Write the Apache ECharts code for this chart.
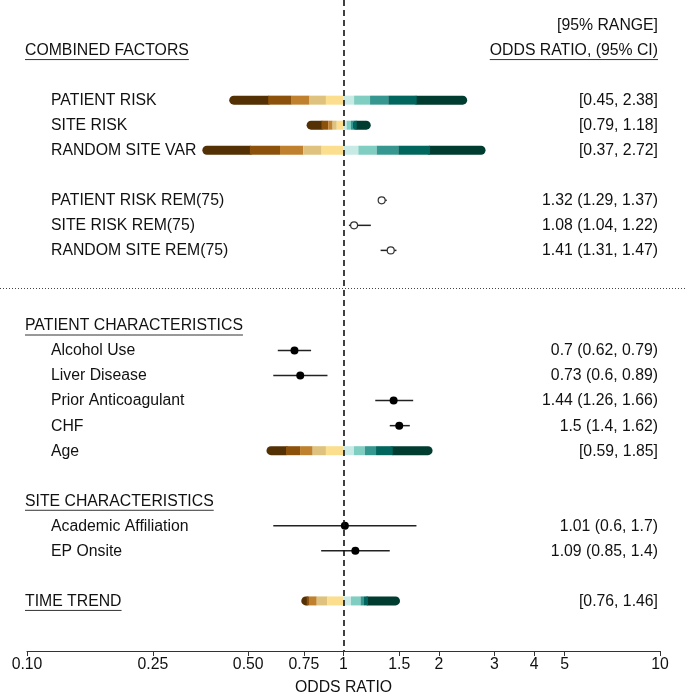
<!DOCTYPE html>
<html><head><meta charset="utf-8">
<script src="https://cdn.jsdelivr.net/npm/echarts@6/dist/echarts.min.js"></script>
<style>html,body{margin:0;padding:0;background:#fff}#c{width:685px;height:694px}</style>
</head><body><div id="c"></div>
<script>
// ---- axis ticks ----
const tickValues = [0.1, 0.25, 0.5, 0.75, 1, 1.5, 2, 3, 4, 5, 10];
const tickLabels = ['0.10', '0.25', '0.50', '0.75', '1', '1.5', '2', '3', '4', '5', '10'];

// ---- section headers (row index, text) ----
const headerNames = ['COMBINED FACTORS', 'PATIENT CHARACTERISTICS', 'SITE CHARACTERISTICS', 'TIME TREND'];
const headerRows = [0, 11, 18, 22];

// ---- 95% range rows (colour-banded bars) ----
const rangeNames = ['PATIENT RISK', 'SITE RISK', 'RANDOM SITE VAR', 'Age', 'TIME TREND'];
const rangeRows = [2, 3, 4, 16, 22];
const rangeShowName = [true, true, true, true, false];
const rangeLow = [0.45, 0.79, 0.37, 0.59, 0.76];
const rangeHigh = [2.38, 1.18, 2.72, 1.85, 1.46];
// inner band boundaries (9 per bar)
const breaksPatientRisk = [0.578, 0.686, 0.781, 0.88, 1, 1.08, 1.213, 1.385, 1.703];
const breaksSiteRisk = [0.852, 0.895, 0.924, 0.952, 1, 1.023, 1.056, 1.074, 1.101];
const breaksRandomSite = [0.506, 0.63, 0.746, 0.853, 1, 1.114, 1.273, 1.49, 1.876];
const breaksAge = [0.658, 0.729, 0.799, 0.88, 1, 1.079, 1.169, 1.267, 1.431];
const breaksTimeTrend = [0.765, 0.777, 0.823, 0.89, 1, 1.056, 1.132, 1.161, 1.195];
const rangeBreaks = [breaksPatientRisk, breaksSiteRisk, breaksRandomSite, breaksAge, breaksTimeTrend];
const bandColors = ['#543005', '#8c510a', '#bf812d', '#dfc27d', '#fbdf8e',
                    '#c7eae5', '#80cdc1', '#35978f', '#01665e', '#003c30'];

// ---- odds ratio rows ----
const pointNames = ['PATIENT RISK REM(75)', 'SITE RISK REM(75)', 'RANDOM SITE REM(75)',
  'Alcohol Use', 'Liver Disease', 'Prior Anticoagulant', 'CHF', 'Academic Affiliation', 'EP Onsite'];
const pointRows = [6, 7, 8, 12, 13, 14, 15, 19, 20];
const pointEst = [1.32, 1.08, 1.41, 0.7, 0.73, 1.44, 1.5, 1.01, 1.09];
const pointLow = [1.29, 1.04, 1.31, 0.62, 0.6, 1.26, 1.4, 0.6, 0.85];
const pointHigh = [1.37, 1.22, 1.47, 0.79, 0.89, 1.66, 1.62, 1.7, 1.4];
const pointOpen = [true, true, true, false, false, false, false, false, false];

// ---- right column header ----
const rightHeaders = ['[95% RANGE]', 'ODDS RATIO, (95% CI)'];
const rightHeaderRows = [-1, 0];
const dividerRow = 9.5;

const FONT = '"Liberation Sans", Arial, sans-serif';
const FS = 15.8;
const TXT = '#111';

// build band segments: round-capped ends first, butt interior on top
const bandData = [];
rangeRows.forEach((r, i) => {
  const pts = [rangeLow[i]].concat(rangeBreaks[i], [rangeHigh[i]]);
  [0, 9].forEach(s => bandData.push([pts[s], pts[s + 1], r, s]));
});
rangeRows.forEach((r, i) => {
  const pts = [rangeLow[i]].concat(rangeBreaks[i], [rangeHigh[i]]);
  for (let s = 1; s < 9; s++) bandData.push([pts[s], pts[s + 1], r, s]);
});
const ciData = pointRows.map((r, i) => [pointLow[i], pointHigh[i], r]);
const openPts = [], fillPts = [];
pointRows.forEach((r, i) => (pointOpen[i] ? openPts : fillPts).push([pointEst[i], r]));

const chart = echarts.init(document.getElementById('c'), null, {renderer: 'canvas'});
const option = {
  animation: false,
  backgroundColor: '#fff',
  grid: {left: 27, right: 25, top: 0, bottom: 43, containLabel: false, outerBoundsMode: 'none'},
  xAxis: {
    type: 'log', logBase: 10, min: 0.1, max: 10,
    name: 'ODDS RATIO', nameLocation: 'middle', nameGap: 29,
    nameTextStyle: {fontFamily: FONT, fontSize: FS, color: TXT},
    axisLine: {show: true, onZero: false, lineStyle: {color: '#333', width: 1}},
    axisTick: {show: true, length: 5, customValues: tickValues, lineStyle: {color: '#333'}},
    axisLabel: {
      show: true, customValues: tickValues, margin: 6, fontFamily: FONT, fontSize: FS, color: TXT,
      formatter: v => {
        let best = 0;
        tickValues.forEach((t, i) => { if (Math.abs(Math.log(t) - Math.log(v)) < Math.abs(Math.log(tickValues[best]) - Math.log(v))) best = i; });
        return tickLabels[best];
      }
    },
    splitLine: {show: false}, minorTick: {show: false}
  },
  yAxis: {type: 'value', inverse: true, min: -2, max: 24, show: false},
  series: [
    {
      type: 'custom', data: bandData, encode: {x: [0, 1], y: 2}, z: 3,
      renderItem: (params, api) => {
        const p0 = api.coord([api.value(0), api.value(2)]);
        const p1 = api.coord([api.value(1), api.value(2)]);
        const s = api.value(3);
        return {type: 'line', shape: {x1: p0[0], y1: p0[1], x2: p1[0], y2: p1[1]},
          style: {stroke: bandColors[s], lineWidth: 9, lineCap: (s === 0 || s === 9) ? 'round' : 'butt'}};
      }
    },
    {
      type: 'custom', data: ciData, encode: {x: [0, 1], y: 2}, z: 3,
      renderItem: (params, api) => {
        const p0 = api.coord([api.value(0), api.value(2)]);
        const p1 = api.coord([api.value(1), api.value(2)]);
        return {type: 'line', shape: {x1: p0[0], y1: p0[1], x2: p1[0], y2: p1[1]},
          style: {stroke: '#222', lineWidth: 1.5}};
      },
      markLine: {
        silent: true, symbol: 'none', label: {show: false},
        lineStyle: {color: '#111', width: 1.6, type: [6, 4]},
        data: [{xAxis: 1}]
      }
    },
    {
      type: 'scatter', data: openPts, symbol: 'circle', symbolSize: 7, z: 4,
      itemStyle: {color: '#fff', borderColor: '#333', borderWidth: 1.2, opacity: 1}
    },
    {
      type: 'scatter', data: fillPts, symbol: 'circle', symbolSize: 8, z: 4,
      itemStyle: {color: '#000', opacity: 1}
    }
  ]
};
chart.setOption(option);

// ---- text column & decorations ----
const ctx = document.createElement('canvas').getContext('2d');
ctx.font = FS + 'px ' + FONT;
const rowY = k => chart.convertToPixel({yAxisIndex: 0}, k);
const g = [];
function addText(txt, x, y, align, underline) {
  g.push({type: 'text', x: x, y: y + 0.5, z: 10,
    style: {text: txt, fontFamily: FONT, fontSize: FS, fill: TXT, align: align, verticalAlign: 'middle'}});
  if (underline) {
    const w = ctx.measureText(txt).width;
    const x0 = align === 'right' ? x - w : x;
    g.push({type: 'line', z: 10, shape: {x1: x0, y1: y + 9.5, x2: x0 + w, y2: y + 9.5},
      style: {stroke: '#333', lineWidth: 1}});
  }
}
headerNames.forEach((n, i) => addText(n, 25, rowY(headerRows[i]), 'left', true));
rangeNames.forEach((n, i) => {
  if (rangeShowName[i]) addText(n, 51, rowY(rangeRows[i]), 'left', false);
  addText('[' + rangeLow[i] + ', ' + rangeHigh[i] + ']', 658, rowY(rangeRows[i]), 'right', false);
});
pointNames.forEach((n, i) => {
  addText(n, 51, rowY(pointRows[i]), 'left', false);
  addText(pointEst[i] + ' (' + pointLow[i] + ', ' + pointHigh[i] + ')', 658, rowY(pointRows[i]), 'right', false);
});
rightHeaders.forEach((t, i) => addText(t, 658, rowY(rightHeaderRows[i]), 'right', i === 1));
const dy = Math.round(rowY(dividerRow)) + 0.5;
g.push({type: 'line', z: 10, shape: {x1: 0, y1: dy, x2: 685, y2: dy},
  style: {stroke: '#444', lineWidth: 1, lineDash: [1, 2]}});
chart.setOption({graphic: {elements: g}});
</script>
</body></html>
